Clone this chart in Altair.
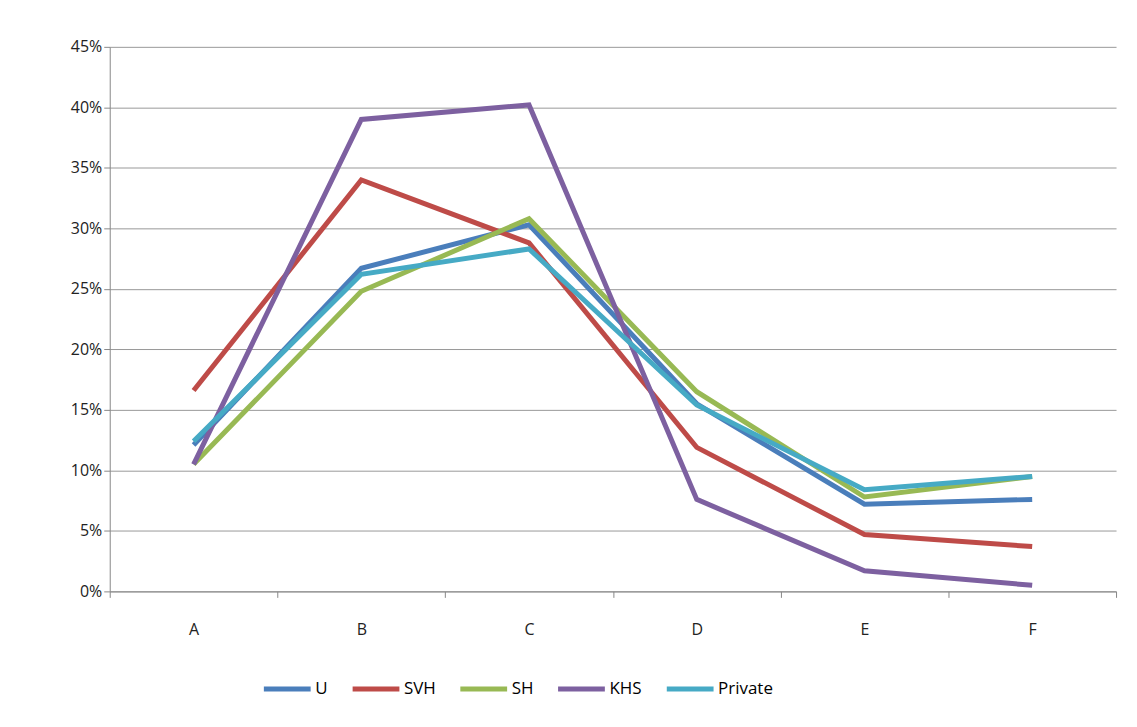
import altair as alt
import pandas as pd

categories = ['A', 'B', 'C', 'D', 'E', 'F']
series = ['U', 'SVH', 'SH', 'KHS', 'Private']
colors = ['#4a7ebb', '#be4b48', '#98b954', '#7d60a0', '#46aac5']

u = [12.1, 26.7, 30.3, 15.5, 7.2, 7.6]
svh = [16.6, 34.0, 28.8, 11.9, 4.7, 3.7]
sh = [10.5, 24.8, 30.8, 16.5, 7.8, 9.5]
khs = [10.5, 39.0, 40.2, 7.6, 1.7, 0.5]
private = [12.4, 26.2, 28.3, 15.4, 8.4, 9.5]

rows = []
for name, vals in zip(series, [u, svh, sh, khs, private]):
    for i, (cat, v) in enumerate(zip(categories, vals)):
        rows.append({'cat': cat, 'pos': i + 0.5, 'series': name, 'value': v / 100})
df = pd.DataFrame(rows)

label_expr = "['A','B','C','D','E','F'][floor(datum.value)]"
xscale = alt.Scale(domain=[0, 6], nice=False, zero=False)

lines = alt.Chart(df).mark_line(strokeWidth=5).encode(
    x=alt.X('pos:Q', title=None, scale=xscale,
            axis=alt.Axis(orient='bottom', values=[i + 0.5 for i in range(6)], labelExpr=label_expr,
                          ticks=False, domain=False, grid=False, labelPadding=30)),
    y=alt.Y('value:Q', title=None,
            scale=alt.Scale(domain=[0, 0.45]),
            axis=alt.Axis(format='.0%', values=[i * 0.05 for i in range(10)],
                          domainColor='#888', tickColor='#888', gridColor='#999', tickSize=6)),
    color=alt.Color('series:N', sort=series,
                    scale=alt.Scale(domain=series, range=colors),
                    legend=alt.Legend(title=None, orient='none', direction='horizontal',
                                      legendX=152, legendY=618,
                                      symbolType='stroke', symbolStrokeWidth=5, symbolSize=2200,
                                      labelFontSize=17, columnPadding=14, labelOffset=2))
)

ticks = alt.Chart(df).mark_line(opacity=0).encode(
    x=alt.X('pos:Q', title=None, scale=xscale,
            axis=alt.Axis(orient='bottom', values=list(range(7)), labels=False, tickSize=6, grid=False,
                          domainColor='#888', tickColor='#888')),
    y='value:Q'
)

chart = alt.layer(ticks, lines).resolve_axis(x='independent').properties(
    width=1009, height=546, padding={'left': 62, 'top': 30, 'right': 12, 'bottom': 10}
).configure_axis(
    labelFont='Open Sans', labelFontSize=16, labelColor='#222'
).configure_legend(labelFont='Open Sans').configure_view(stroke=None)

chart.save("out.html", embed_options={"renderer": "svg", "actions": False})
